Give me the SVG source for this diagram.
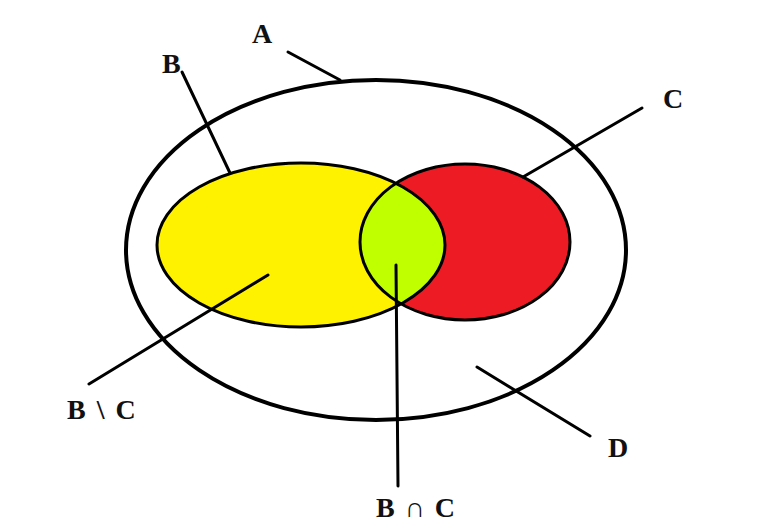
<svg xmlns="http://www.w3.org/2000/svg" width="773" height="531" viewBox="0 0 773 531">
<style>
.lbl{font-family:"Liberation Serif","Times New Roman",serif;font-weight:bold;font-size:28px;fill:#111}
.ln{stroke:#000;stroke-width:3;fill:none;stroke-linecap:round}
.ol{stroke:#000;stroke-width:3;fill:none}
</style>
<defs>
<clipPath id="clipC"><ellipse cx="465" cy="242" rx="105" ry="78"/></clipPath>
</defs>
<rect width="773" height="531" fill="#fff"/>
<g id="A">
<ellipse cx="376" cy="250" rx="250" ry="170" fill="none" stroke="#000" stroke-width="4"/>
</g>
<g id="B">
<ellipse cx="301" cy="245" rx="144" ry="82" fill="#FFF200"/>
</g>
<g id="C">
<ellipse cx="465" cy="242" rx="105" ry="78" fill="#ED1C24"/>
</g>
<g id="BC">
<ellipse cx="301" cy="245" rx="144" ry="82" fill="#C0FF00" clip-path="url(#clipC)"/>
<ellipse class="ol" cx="301" cy="245" rx="144" ry="82"/>
<ellipse class="ol" cx="465" cy="242" rx="105" ry="78"/>
</g>
<g id="connectors">
<line class="ln" x1="288" y1="52" x2="340" y2="80"/>
<line class="ln" x1="182" y1="72" x2="230" y2="173"/>
<line class="ln" x1="642" y1="108" x2="523" y2="177"/>
<line class="ln" x1="89" y1="384" x2="268" y2="275"/>
<line class="ln" x1="396" y1="265" x2="398" y2="486"/>
<line class="ln" x1="590" y1="436" x2="477" y2="367"/>
</g>
<g id="labels">
<text class="lbl" x="252" y="43">A</text>
<text class="lbl" x="162" y="73">B</text>
<text class="lbl" x="663" y="108">C</text>
<text class="lbl" x="67" y="419" word-spacing="4">B \ C</text>
<text class="lbl" x="608" y="457">D</text>
<text class="lbl" x="376" y="517" word-spacing="3">B ∩ C</text>
</g>
</svg>
